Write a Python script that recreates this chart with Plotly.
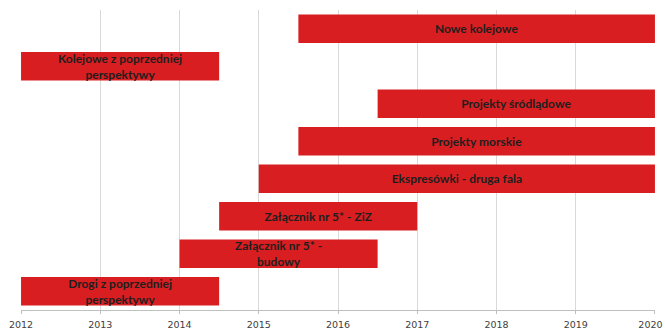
import plotly.graph_objects as go

categories = ["Nowe kolejowe", "Kolejowe z poprzedniej perspektywy", "Projekty śródlądowe",
              "Projekty morskie", "Ekspresówki - druga fala", "Załącznik nr 5* - ZiZ",
              "Załącznik nr 5* - budowy", "Drogi z poprzedniej perspektywy"]
labels = ["Nowe kolejowe", "Kolejowe z poprzedniej<br>perspektywy", "Projekty śródlądowe",
          "Projekty morskie", "Ekspresówki - druga fala", "Załącznik nr 5* - ZiZ",
          "Załącznik nr 5* -<br>budowy", "Drogi z poprzedniej<br>perspektywy"]
start = [2015.5, 2012, 2016.5, 2015.5, 2015, 2014.5, 2014, 2012]
end = [2020, 2014.5, 2020, 2020, 2020, 2017, 2016.5, 2014.5]
years = list(range(2012, 2021))
year_labels = [str(y) for y in years]
year_labels[-1] = year_labels[-1] + "\u00a0\u00a0\u00a0"

durations = [e - s for s, e in zip(start, end)]

fig = go.Figure(go.Bar(
    y=categories, x=durations, base=start, orientation="h",
    marker=dict(color="#D91E22", line=dict(width=0)),
    text=labels, textposition="inside", insidetextanchor="middle",
    constraintext="none", cliponaxis=False,
    textfont=dict(family="Lato", size=12, color="#1E1E1E", weight="bold"),
    hoverinfo="skip",
))

fig.update_layout(
    width=665, height=331,
    margin=dict(l=21, r=10, t=10, b=21),
    paper_bgcolor="white", plot_bgcolor="white",
    bargap=0.24, showlegend=False,
)
fig.update_xaxes(
    range=[2011.9995, 2020.0005], tickvals=years, ticktext=year_labels,
    showgrid=True, gridcolor="#D9D9D9", gridwidth=1,
    showline=True, linecolor="#BFBFBF", linewidth=1,
    ticks="outside", ticklen=3, tickcolor="#BFBFBF",
    tickfont=dict(family="DejaVu Sans", size=9.5, color="#404040"),
    ticklabeloverflow="allow", ticklabelstandoff=3,
    zeroline=False, automargin=False,
)
fig.update_yaxes(
    categoryorder="array", categoryarray=categories, autorange="reversed",
    showticklabels=False, showgrid=False, zeroline=False, showline=False,
    automargin=False,
)

fig.write_html("out.html", config={"displayModeBar": False, "staticPlot": True},
               post_script="document.body.style.margin='0';document.body.style.overflow='hidden';")
